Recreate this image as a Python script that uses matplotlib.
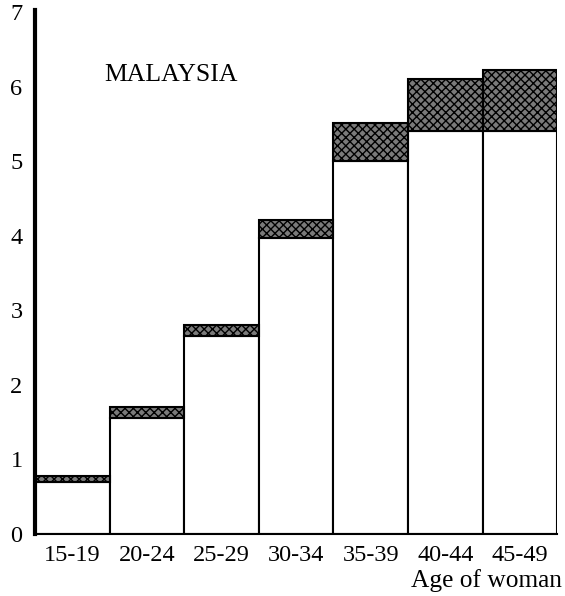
import numpy as np
import matplotlib.pyplot as plt

plt.rcParams['font.family'] = ['Liberation Serif', 'DejaVu Serif']
plt.rcParams['hatch.linewidth'] = 1.0

# Data
age_groups = ['15-19', '20-24', '25-29', '30-34', '35-39', '40-44', '45-49']
base_vals = [0.70, 1.56, 2.66, 3.97, 5.00, 5.41, 5.41]
total_vals = [0.78, 1.70, 2.81, 4.21, 5.51, 6.11, 6.23]
extra_vals = [t - b for t, b in zip(total_vals, base_vals)]
y_ticks = [0, 1, 2, 3, 4, 5, 6, 7]

fig = plt.figure(figsize=(5.65, 5.96), dpi=100)
ax = fig.add_axes([0.062, 0.104, 0.924, 0.879])

x = np.arange(len(age_groups))
ax.bar(x, base_vals, width=1.0, color='white', edgecolor='black', linewidth=1.5)
ax.bar(x, extra_vals, width=1.0, bottom=base_vals, color='#7a7a7a',
       edgecolor='black', linewidth=1.5, hatch='xxxx')

ax.set_xlim(-0.5, 6.5)
ax.set_ylim(0, 7.03)
ax.set_xticks(x)
ax.set_xticklabels(age_groups, fontsize=17.5)
ax.set_yticks(y_ticks)
ax.set_yticklabels([str(v) for v in y_ticks], fontsize=17.5)
ax.tick_params(length=0, pad=8)
ax.tick_params(axis='y', pad=9)

ax.spines['top'].set_visible(False)
ax.spines['right'].set_visible(False)
ax.spines['left'].set_linewidth(3)
ax.spines['bottom'].set_linewidth(1.5)

ax.text(0.26, 0.876, 'MALAYSIA', transform=ax.transAxes, ha='center',
        va='center', fontsize=18.5)
fig.text(0.995, 0.026, 'Age of woman', ha='right', va='center', fontsize=18.3)

fig.savefig('out.png', dpi=100)
